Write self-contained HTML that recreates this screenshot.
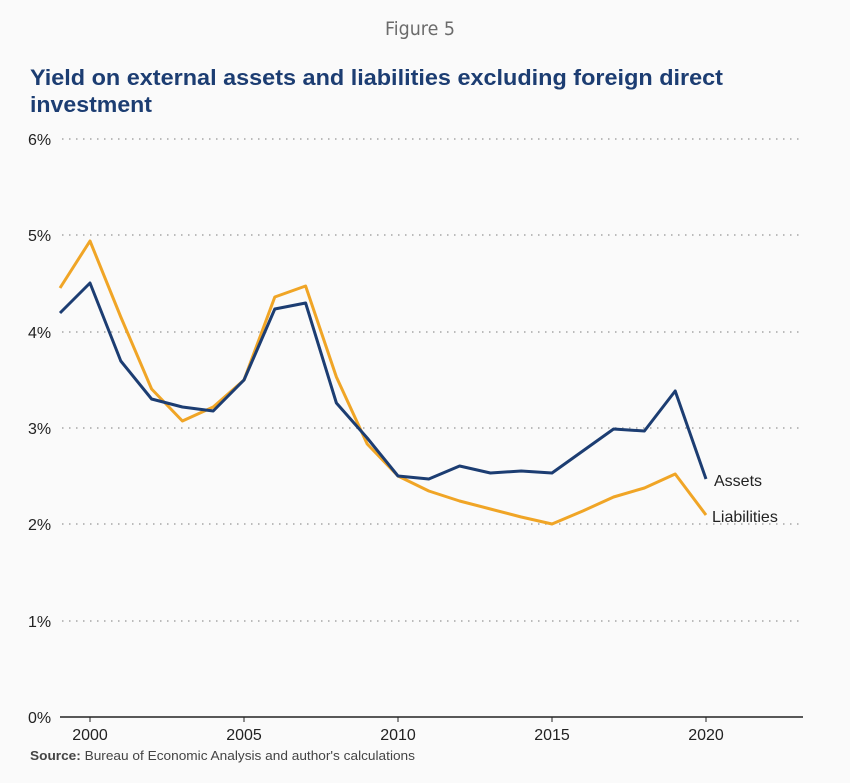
<!DOCTYPE html>
<html><head><style>
html,body{margin:0;padding:0;background:#fafafa;}
svg{display:block;}
</style></head><body>
<svg width="850" height="783" xmlns="http://www.w3.org/2000/svg" font-family="Liberation Sans, sans-serif">
<rect width="850" height="783" fill="#fafafa"/>
<text x="420" y="35" text-anchor="middle" font-size="19" fill="#6b6b6b" font-family="DejaVu Sans, sans-serif" textLength="70" lengthAdjust="spacingAndGlyphs">Figure 5</text>
<text x="30" y="85" font-size="22" font-weight="bold" fill="#1c3d72" textLength="693" lengthAdjust="spacingAndGlyphs">Yield on external assets and liabilities excluding foreign direct</text>
<text x="30" y="112" font-size="22" font-weight="bold" fill="#1c3d72" textLength="122" lengthAdjust="spacingAndGlyphs">investment</text>
<g stroke="#bbb" stroke-width="2" stroke-dasharray="1.5,5.5">
<line x1="62" x2="800" y1="139" y2="139"/>
<line x1="62" x2="800" y1="235" y2="235"/>
<line x1="62" x2="800" y1="332" y2="332"/>
<line x1="62" x2="800" y1="428" y2="428"/>
<line x1="62" x2="800" y1="524" y2="524"/>
<line x1="62" x2="800" y1="621" y2="621"/>
</g>
<g font-size="16" fill="#222">
<text x="28" y="145">6%</text>
<text x="28" y="241">5%</text>
<text x="28" y="338">4%</text>
<text x="28" y="434">3%</text>
<text x="28" y="530">2%</text>
<text x="28" y="627">1%</text>
<text x="28" y="723">0%</text>
</g>
<line x1="60" x2="803" y1="717" y2="717" stroke="#222" stroke-width="1.5"/>
<g stroke="#222" stroke-width="1">
<line x1="90" x2="90" y1="717" y2="722"/><line x1="244" x2="244" y1="717" y2="722"/><line x1="398" x2="398" y1="717" y2="722"/><line x1="552" x2="552" y1="717" y2="722"/><line x1="706" x2="706" y1="717" y2="722"/>
</g>
<g font-size="16" fill="#222" text-anchor="middle">
<text x="90" y="740">2000</text><text x="244" y="740">2005</text><text x="398" y="740">2010</text><text x="552" y="740">2015</text><text x="706" y="740">2020</text>
</g>
<polyline fill="none" stroke="#f0a526" stroke-width="3" stroke-linejoin="round" points="60,288 90,241 120.8,317 151.6,389 182.4,421 213.2,407 244,380 274.8,297 305.6,286 336.4,377 367.2,444 398,476 428.8,491 459.6,501 490.4,509 521.2,517 552,524 582.8,511 613.6,497 644.4,488 675.2,474 706,515"/>
<polyline fill="none" stroke="#1c3d72" stroke-width="3" stroke-linejoin="round" points="60,313 90,283 120.8,361 151.6,399 182.4,407 213.2,411 244,380 274.8,309 305.6,303 336.4,403 367.2,438 398,476 428.8,479 459.6,466 490.4,473 521.2,471 552,473 582.8,451 613.6,429 644.4,431 675.2,391 706,479"/>
<text x="714" y="486" font-size="16" fill="#222">Assets</text>
<text x="712" y="522" font-size="16" fill="#222">Liabilities</text>
<text x="30" y="760" font-size="13" fill="#444" textLength="385" lengthAdjust="spacingAndGlyphs"><tspan font-weight="bold">Source:</tspan> Bureau of Economic Analysis and author's calculations</text>
</svg>
</body></html>
